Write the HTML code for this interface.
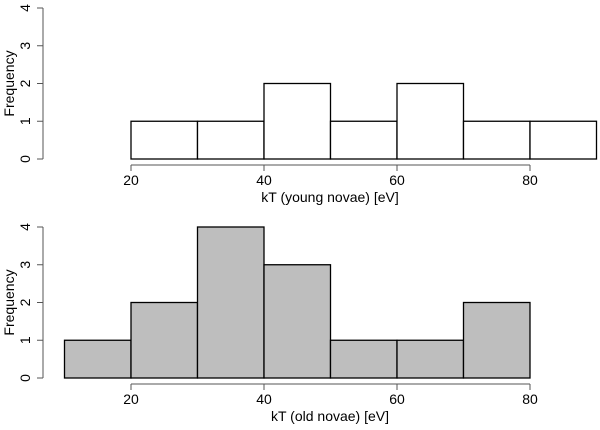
<!DOCTYPE html>
<html><head><meta charset="utf-8"><style>
body{margin:0;background:#fff}
svg text{font-family:"Liberation Sans",Arial,sans-serif;font-size:14px;fill:#000}
</style></head><body>
<svg id="c" width="600" height="425" viewBox="0 0 600 425" xmlns="http://www.w3.org/2000/svg"></svg>
<script>
const youngBins = [20,30,40,50,60,70,80];
const youngCounts = [1,1,2,1,2,1,1];
const oldBins = [10,20,30,40,50,60,70];
const oldCounts = [1,2,4,3,1,1,2];
const xTicks = [20,40,60,80];
const yTicks = [0,1,2,3,4];
const binWidth = 10;

const svg = document.getElementById('c');
const NS = 'http://www.w3.org/2000/svg';
function mk(tag, attrs, parent){const e=document.createElementNS(NS,tag);for(const k in attrs)e.setAttribute(k,attrs[k]);(parent||svg).appendChild(e);return e;}
const xs = v => 131 + (v-20)*(530-131)/60;

function panel(name, y0, y4, bins, counts, fill, title){
  const g = mk('g',{});
  
  
  const ys = v => y0 + (y4-y0)*v/4;
  bins.forEach((b,i)=>{
    const r = mk('rect',{x:xs(b),y:ys(counts[i]),width:xs(b+binWidth)-xs(b),height:y0-ys(counts[i]),fill:fill,stroke:'#000','stroke-width':1.3},g);
    
    
  });
  // y axis
  const ya = mk('g',{},g);
  
  
  mk('line',{x1:43,x2:43,y1:ys(0),y2:ys(4),stroke:'#555'},ya);
  yTicks.forEach(t=>{
    mk('line',{x1:37,x2:43,y1:ys(t),y2:ys(t),stroke:'#555'},ya);
    const tx = mk('text',{x:0,y:0,transform:`translate(30,${ys(t)}) rotate(-90)`,'text-anchor':'middle'},ya);
    tx.textContent = t;
    
    
  });
  const yt = mk('text',{transform:`translate(14,${(ys(0)+ys(4))/2}) rotate(-90)`,'text-anchor':'middle'},g);
  yt.textContent = 'Frequency';
  
  
  // x axis
  const xa = mk('g',{},g);
  
  
  const ax = y0+6;
  mk('line',{x1:xs(xTicks[0]),x2:xs(xTicks[xTicks.length-1]),y1:ax,y2:ax,stroke:'#555'},xa);
  xTicks.forEach(t=>{
    mk('line',{x1:xs(t),x2:xs(t),y1:ax,y2:ax+6,stroke:'#555'},xa);
    const tx = mk('text',{x:xs(t),y:ax+20,'text-anchor':'middle'},xa);
    tx.textContent = t;
    
    
  });
  const xt = mk('text',{x:330,y:ax+37,'text-anchor':'middle'},g);
  xt.textContent = title;
  
  
}
panel('young-novae-histogram',159,8,youngBins,youngCounts,'#fff','kT (young novae) [eV]');
panel('old-novae-histogram',378,227,oldBins,oldCounts,'#bebebe','kT (old novae) [eV]');
</script>
</body></html>
